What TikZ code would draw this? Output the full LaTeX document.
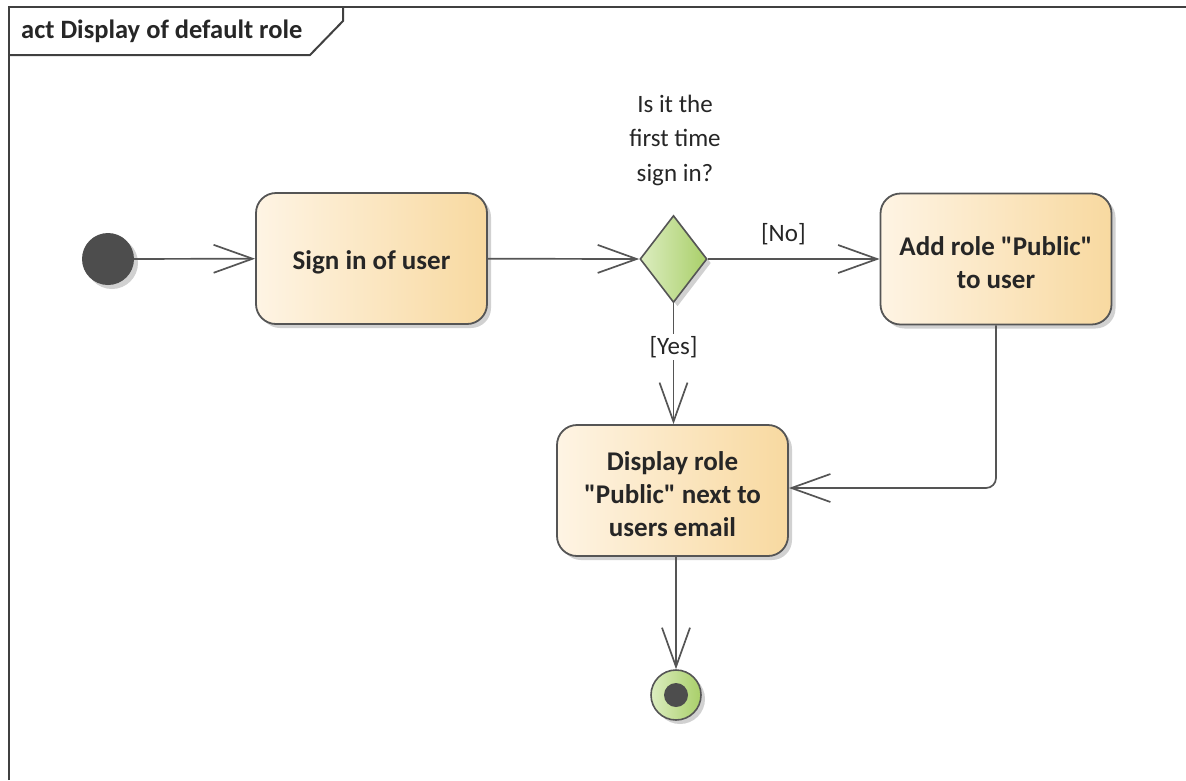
\documentclass[tikz,border=0pt]{standalone}
\usepackage{fontspec}
\setmainfont{Carlito}[Ligatures=TeXOff]
\usetikzlibrary{shapes.geometric,arrows.meta,shadows}
\definecolor{boxL}{HTML}{FEF4E4}
\definecolor{boxR}{HTML}{F8D9A0}
\definecolor{decL}{HTML}{DCEDC0}
\definecolor{decR}{HTML}{A9CF69}
\definecolor{edge}{HTML}{555555}
\definecolor{txt}{HTML}{262626}
\definecolor{dark}{HTML}{4D4D4D}
\begin{document}
\begin{tikzpicture}[x=1pt,y=-1pt,
  softshadow/.style={drop shadow={shadow xshift=4pt,shadow yshift=-4pt,opacity=0.3,fill=black!60}},
  action/.style={draw=edge,line width=1.8pt,rounded corners=20pt,left color=boxL,right color=boxR,
    minimum width=231pt,minimum height=131pt,softshadow},
  boxtext/.style={align=center,text=txt,font=\bfseries\fontsize{27}{33}\selectfont,yshift=-3.5pt},
  decision/.style={shape=diamond,draw=edge,line width=1.6pt,left color=decL,right color=decR,
    minimum width=67pt,minimum height=87pt,inner sep=0pt,softshadow},
  flow/.style={draw=edge,line width=1.7pt,-{Straight Barb[length=39pt,width=28pt,line width=1.7pt]}},
  guard/.style={text=txt,font=\fontsize{25}{30}\selectfont,fill=white,inner sep=2pt},
  frame/.style={draw=black!75,line width=2pt}]
\useasboundingbox (0,0) rectangle (1186,780);
% frame
\draw[frame] (9,780) -- (9,7) -- (1186,7);
\draw[frame] (9,55) -- (310,55) -- (343,21) -- (343,7);
\node[anchor=west,text=txt,font=\bfseries\fontsize{26.5}{30}\selectfont,inner sep=0pt] (title) at (21,31) {act Display of default role};
% nodes
\node[circle,fill=dark,minimum size=52pt,inner sep=0pt,softshadow] (init) at (108,259) {};
\node[action,label={[boxtext]center:Sign in of user}] (sign) at (371.5,258.5) {};
\node[decision] (dec) at (673.5,259) {};
\node[align=center,text=txt,font=\fontsize{25}{34.5}\selectfont,inner sep=0pt] (declbl) at (675,140) {Is it the\\first time\\sign in?};
\node[action,label={[boxtext]center:{Add role "Public"\\to user}}] (add) at (996,259) {};
\node[action,label={[boxtext]center:{Display role\\"Public" next to\\users email}}] (disp) at (672.5,490.5) {};
\node[circle,draw=edge,line width=1.6pt,left color=decL,right color=decR,minimum size=50pt,inner sep=0pt,softshadow] (final) at (676,695) {};
\node[circle,fill=dark,minimum size=24pt,inner sep=0pt] (finalin) at (final.center) {};
% connectors
\draw[flow] (init) -- (sign);
\draw[flow] (sign) -- (dec.west);
\draw[flow] (dec.east) -- node[guard,above=11pt,fill=none,pos=0.44] (nolbl) {[No]} (add.west);
\draw[flow] (dec.south) -- node[guard,pos=0.36] (yeslbl) {[Yes]} (disp.north -| dec.south);
\draw[flow,rounded corners=10pt] (add.south) |- ([yshift=2.5pt]disp.east);
\draw[flow] (disp.south -| final) -- (final.north);
\end{tikzpicture}
\end{document}
